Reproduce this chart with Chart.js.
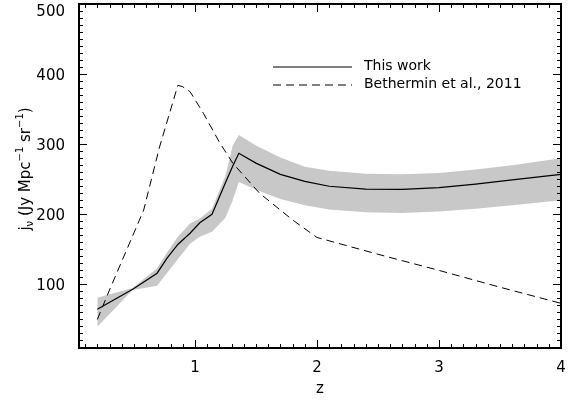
<!DOCTYPE html>
<html>
<head>
    <title>Emissivity vs redshift</title>
    <style>
        body { margin: 0; background: #fff; }
    </style>
    <script src="https://cdn.jsdelivr.net/npm/chart.js"></script>
</head>
<body>
<canvas id="jnuChart" width="571" height="402"></canvas>
<script>
// values
var zWork  = [0.2, 0.49, 0.69, 0.77, 0.86, 0.96, 1.04, 1.14, 1.25, 1.31, 1.36, 1.5, 1.7, 1.9, 2.1, 2.4, 2.7, 3.0, 3.3, 3.6, 4.0];
var jWork  = [64.5, 93, 116, 137, 157, 173, 188, 200, 245, 269, 287, 273, 257, 247, 240, 236, 235.5, 238, 243, 249, 257];
var jUpper = [81, 95, 123, 145, 168, 187, 194, 208, 255, 298, 313, 298, 281, 268, 262, 258, 257, 259, 264, 270, 280];
var jLower = [39.5, 92, 98, 116, 136, 158, 168, 175, 195, 220, 246, 235, 222, 213, 207, 203, 202, 204, 208, 213, 220];
var zBeth  = [0.2, 0.3, 0.44, 0.58, 0.71, 0.86, 0.9, 0.96, 1.07, 1.2, 1.31, 1.53, 1.8, 2.0, 2.5, 3.0, 3.5, 4.0];
var jBeth  = [50, 92, 149, 206, 296, 384, 382, 375, 344, 303, 273, 230, 192, 167, 143, 120, 96, 73];
var zTicks = [1, 2, 3, 4];
var jTicks = [100, 200, 300, 400, 500];
var legendLabels = ['This work', 'Bethermin et al., 2011'];

function pts(xs, ys) {
    return xs.map(function (x, i) { return { x: x, y: ys[i] }; });
}

Chart.defaults.font.family = 'DejaVu Sans';
Chart.defaults.color = '#000';

// IDL style box with inward ticks on all four sides
var boxPlugin = {
    id: 'box',
    afterDraw: function (chart) {
        var ctx = chart.ctx, a = chart.chartArea;
        var xs = chart.scales.x, ys = chart.scales.y;
        ctx.save();
        ctx.setLineDash([]);
        ctx.fillStyle = '#000';
        var L = Math.round(a.left), R = Math.round(a.right);
        var T = Math.round(a.top), B = Math.round(a.bottom);
        ctx.fillRect(L - 1, T - 1, R - L + 2, 2);
        ctx.fillRect(L - 1, B - 1, R - L + 2, 2);
        ctx.fillRect(L - 1, T - 1, 2, B - T + 2);
        ctx.fillRect(R - 1, T - 1, 2, B - T + 2);
        for (var i = 1; i < 40; i++) {
            var len = (i % 10 === 0) ? 8 : 4;
            var px = Math.round(xs.getPixelForValue(i / 10));
            ctx.fillRect(px, B - len, 1, len);
            ctx.fillRect(px, T, 1, len);
        }
        for (var j = 2; j < 50; j++) {
            var l2 = (j % 10 === 0) ? 8 : 4;
            var py = Math.round(ys.getPixelForValue(j * 10));
            ctx.fillRect(L, py, l2, 1);
            ctx.fillRect(R - l2, py, l2, 1);
        }

        // legend
        ctx.strokeStyle = '#000';
        ctx.lineWidth = 1.2;
        ctx.beginPath();
        ctx.moveTo(273, 67); ctx.lineTo(352, 67);
        ctx.stroke();
        ctx.setLineDash([8, 5]);
        ctx.lineWidth = 1;
        ctx.beginPath();
        ctx.moveTo(273, 85); ctx.lineTo(352, 85);
        ctx.stroke();
        ctx.setLineDash([]);
        ctx.font = '14px "DejaVu Sans"';
        ctx.textBaseline = 'middle';
        ctx.fillText(legendLabels[0], 364, 66);
        ctx.fillText(legendLabels[1], 364, 84);

        // y axis title with sub/superscripts
        ctx.translate(26, 169);
        ctx.rotate(-Math.PI / 2);
        var parts = [
            ['j', 0, 15], ['\u03bd', 4, 10], [' (Jy Mpc', 0, 15], ['\u22121', -6, 10],
            [' sr', 0, 15], ['\u22121', -6, 10], [')', 0, 15]
        ];
        var total = 0;
        parts.forEach(function (p) {
            ctx.font = p[2] + 'px "DejaVu Sans"';
            total += ctx.measureText(p[0]).width;
        });
        var x0 = -total / 2;
        ctx.textAlign = 'left';
        parts.forEach(function (p) {
            ctx.font = p[2] + 'px "DejaVu Sans"';
            ctx.fillText(p[0], x0, p[1]);
            x0 += ctx.measureText(p[0]).width;
        });
        ctx.restore();
    }
};

new Chart(document.getElementById('jnuChart'), {
    type: 'line',
    data: {
        datasets: [{
            label: legendLabels[0],
            data: pts(zWork, jWork),
            borderColor: '#000',
            borderWidth: 1.2,
            pointRadius: 0,
            fill: false
        }, {
            label: legendLabels[1],
            data: pts(zBeth, jBeth),
            borderColor: '#000',
            borderWidth: 1,
            borderDash: [8, 5],
            pointRadius: 0,
            fill: false
        }, {
            label: 'upper',
            data: pts(zWork, jUpper),
            borderWidth: 0,
            borderColor: 'rgba(0,0,0,0)',
            pointRadius: 0,
            fill: false
        }, {
            label: 'lower',
            data: pts(zWork, jLower),
            borderWidth: 0,
            borderColor: 'rgba(0,0,0,0)',
            backgroundColor: '#c8c8c8',
            pointRadius: 0,
            fill: '-1'
        }]
    },
    options: {
        responsive: false,
        animation: false,
        layout: { padding: { left: 0, right: 10, top: 4, bottom: 0 } },
        plugins: { legend: { display: false }, tooltip: { enabled: false } },
        scales: {
            x: {
                type: 'linear',
                min: 0.05,
                max: 4,
                grid: { display: false },
                border: { display: false },
                afterBuildTicks: function (s) { s.ticks = zTicks.map(function (v) { return { value: v }; }); },
                afterFit: function (s) { s.height = 54.5; s.paddingLeft = 0; s.paddingRight = 0; },
                ticks: { font: { size: 15 }, padding: 4, maxRotation: 0 },
                title: { display: true, text: 'z', font: { size: 15 }, padding: { top: 8 } }
            },
            y: {
                min: 10,
                max: 500,
                grid: { display: false },
                border: { display: false },
                afterBuildTicks: function (s) { s.ticks = jTicks.map(function (v) { return { value: v }; }); },
                afterFit: function (s) { s.width = 79; s.paddingTop = 0; s.paddingBottom = 0; },
                ticks: {
                    font: { size: 15, lineHeight: 0.75 },
                    padding: 6,
                    labelOffset: 2,
                    // top label sits a little below its tick, as in the original
                    callback: function (v) { return v === 500 ? ['', '500'] : String(v); }
                }
            }
        }
    },
    plugins: [boxPlugin]
});
</script>
</body>
</html>
